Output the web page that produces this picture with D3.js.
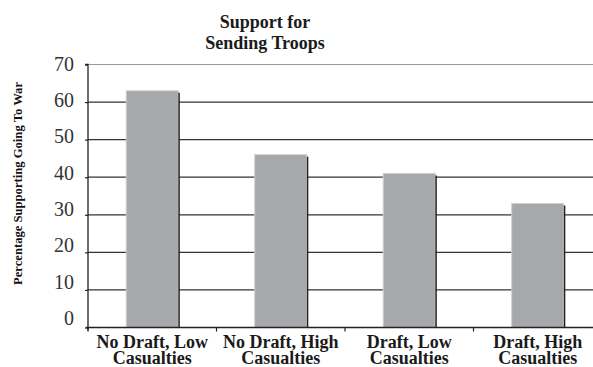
<!DOCTYPE html>
<html>
<head>
<meta charset="utf-8">
<script src="https://cdn.jsdelivr.net/npm/d3@7"></script>
<style>
  body { margin: 0; background: #fff; }
  svg { display: block; }
</style>
</head>
<body>
<svg id="chart" width="593" height="367"></svg>
<script>
// categories, two lines each
const categories = ["No Draft, Low Casualties", "No Draft, High Casualties", "Draft, Low Casualties", "Draft, High Casualties"];
const categoryLines = [["No Draft, Low", "Casualties"], ["No Draft, High", "Casualties"], ["Draft, Low", "Casualties"], ["Draft, High", "Casualties"]];
const support = [63, 46, 41, 33];
const yTicks = [0, 10, 20, 30, 40, 50, 60, 70];
const titleLines = ["Support for", "Sending Troops"];
const yTitle = "Percentage Supporting Going To War";

const svg = d3.select("#chart");
const W = 593;
const plotLeft = 88, plotRight = 602, plotTop = 64.5, plotBottom = 327.5;

const x = d3.scaleBand().domain(categories).range([plotLeft, plotRight]).padding(0);
const y = d3.scaleLinear().domain([0, 70]).range([plotBottom, plotTop]);
// the printed tick labels sit a little above the grid lines
const yLabel = d3.scaleLinear().domain([0, 70]).range([318, 64]);

const serif = "'Liberation Serif', 'Times New Roman', serif";

// grid lines
svg.append("g")
  .selectAll("line")
  .data(yTicks.filter(d => d > 0))
  .join("line")
  .attr("x1", plotLeft).attr("x2", W)
  .attr("y1", d => y(d)).attr("y2", d => y(d))
  .attr("stroke", d => d === 70 ? "#9a9a9a" : "#333")
  .attr("stroke-width", 1.2);

// bars
const barW = x.bandwidth() * 0.405;
const bars = svg.append("g");
bars.selectAll("rect")
  .data(support)
  .join("rect")
  .attr("x", (d, i) => x(categories[i]) + x.bandwidth() / 2 - barW / 2)
  .attr("y", d => y(d))
  .attr("width", barW)
  .attr("height", d => y(0) - y(d))
  .attr("fill", "#a7a8ab")
  .attr("stroke", "#cfcfd1")
  .attr("stroke-width", 1);
// dark shadow edge on the right of each bar
bars.selectAll("line")
  .data(support)
  .join("line")
  .attr("x1", (d, i) => x(categories[i]) + x.bandwidth() / 2 + barW / 2 + 0.8)
  .attr("x2", (d, i) => x(categories[i]) + x.bandwidth() / 2 + barW / 2 + 0.8)
  .attr("y1", d => y(d) + 2)
  .attr("y2", y(0))
  .attr("stroke", "#222")
  .attr("stroke-width", 1.5);

// y axis line + ticks
const yAxis = svg.append("g")
  .attr("transform", `translate(${plotLeft},0)`)
  .call(d3.axisLeft(y).tickValues(yTicks).tickSize(3).tickFormat(""));
yAxis.select(".domain").attr("stroke", "#222").attr("stroke-width", 1.3)
  .attr("d", `M-3,${plotTop}H0V${plotBottom + 3}`);
yAxis.selectAll(".tick line").attr("stroke", "#222").attr("stroke-width", 1.2);

// y tick labels
const yLab = svg.append("g")
  .attr("transform", `translate(${plotLeft},0)`)
  .call(d3.axisLeft(yLabel).tickValues(yTicks).tickSize(0).tickPadding(14));
yLab.select(".domain").remove();
yLab.selectAll("text")
  .attr("font-family", serif)
  .attr("font-size", 20)
  .attr("fill", "#333");

// x axis
const xAxis = svg.append("g")
  .attr("transform", `translate(0,${plotBottom})`);
xAxis.append("line")
  .attr("x1", plotLeft - 2).attr("x2", W)
  .attr("y1", 0).attr("y2", 0)
  .attr("stroke", "#222").attr("stroke-width", 1.3);
xAxis.selectAll("line.tk")
  .data(categories)
  .join("line")
  .attr("class", "tk")
  .attr("x1", d => x(d)).attr("x2", d => x(d))
  .attr("y1", 0).attr("y2", 4)
  .attr("stroke", "#222").attr("stroke-width", 1.2);

// category labels, one text per line
const xLabRows = [];
categories.forEach((c, i) => categoryLines[i].forEach((t, j) => xLabRows.push({ cat: c, line: j, text: t })));
svg.append("g")
  .selectAll("text")
  .data(xLabRows)
  .join("text")
  .attr("x", d => x(d.cat) + x.bandwidth() / 2)
  .attr("y", d => 347.5 + d.line * 16)
  .attr("text-anchor", "middle")
  .attr("font-family", serif)
  .attr("font-size", 18)
  .attr("font-weight", "bold")
  .attr("fill", "#1a1a1a")
  .text(d => d.text);

// title
svg.append("g")
  .selectAll("text")
  .data(titleLines)
  .join("text")
  .attr("x", 265)
  .attr("y", (d, i) => 28 + i * 21)
  .attr("text-anchor", "middle")
  .attr("font-family", serif)
  .attr("font-size", 18)
  .attr("font-weight", "bold")
  .attr("fill", "#1a1a1a")
  .text(d => d);

// y axis title
svg.append("text")
  .attr("transform", "translate(22,183.5) rotate(-90)")
  .attr("text-anchor", "middle")
  .attr("font-family", serif)
  .attr("font-size", 11.5)
  .attr("font-weight", "bold")
  .attr("fill", "#111")
  .attr("textLength", 203)
  .attr("lengthAdjust", "spacingAndGlyphs")
  .text(yTitle);
</script>
</body>
</html>
